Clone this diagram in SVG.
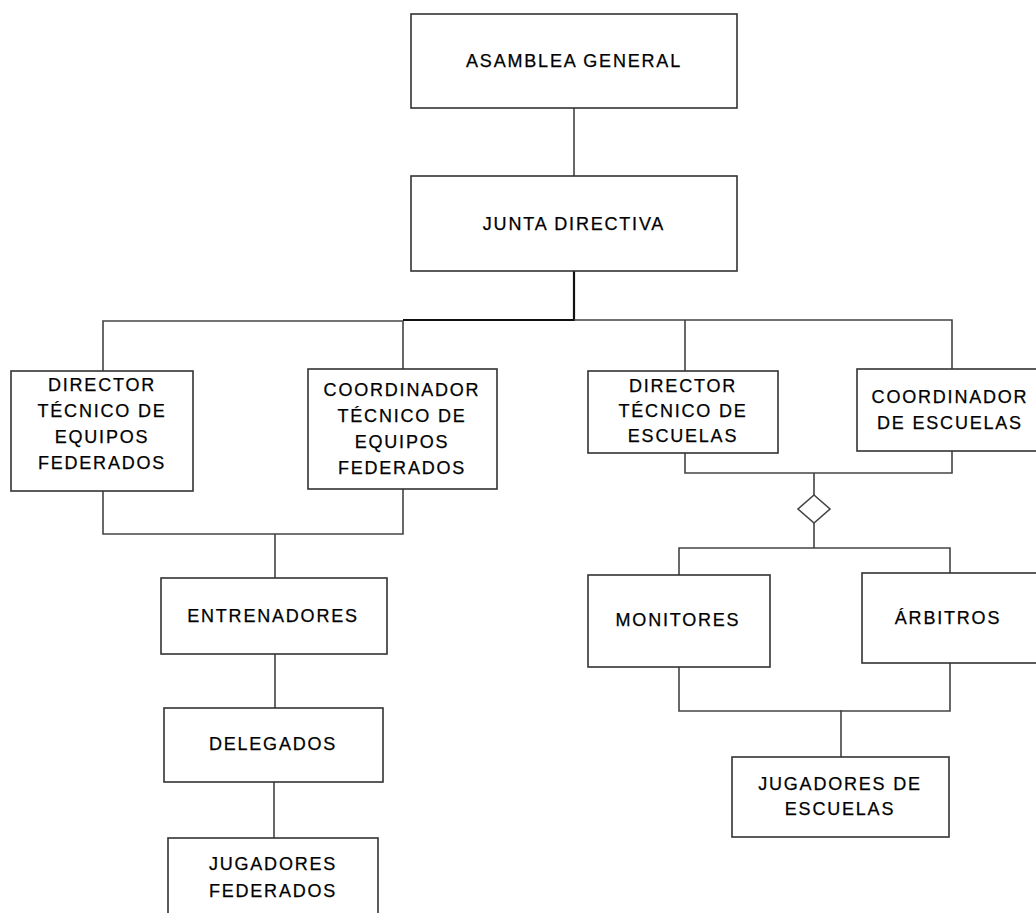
<svg xmlns="http://www.w3.org/2000/svg" width="1036" height="913" viewBox="0 0 1036 913">
<style>
.box{fill:#fff;stroke:#333;stroke-width:1.6}
.t{font-family:"Liberation Sans",Arial,sans-serif;font-size:18px;letter-spacing:1.8px;fill:#000;stroke:#000;stroke-width:0.25;text-anchor:middle}
.c{fill:none;stroke:#444;stroke-width:1.6}
.ck{fill:none;stroke:#111;stroke-width:2.2}
</style>
<rect width="1036" height="913" fill="#fff"/>
<g id="connectors">
<path class="c" d="M574,108 V176"/>
<path class="ck" d="M574,271 V320 H403"/>
<path class="c" d="M103,371 V321 H403 M574,320 H952 V369 M403,321 V369 M685,320 V371"/>
<path class="c" d="M103,491 V534 H403 V489 M275,534 V578"/>
<path class="c" d="M685,453 V473 H952 V451 M814,473 V495 M814,523 V548 M679,575 V548 H950 V573"/>
<path class="c" d="M814,495 L830,509 L814,523 L798,509 Z" fill="#fff"/>
<path class="c" d="M679,667 V711 H950 V663 M841,710 V757"/>
<path class="c" d="M275,654 V708 M274,782 V838"/>
</g>
<g id="asamblea"><rect class="box" x="411" y="14" width="326" height="94"/><text class="t" x="574" y="66.5">ASAMBLEA GENERAL</text></g>
<g id="junta"><rect class="box" x="411" y="176" width="326" height="95"/><text class="t" x="574" y="229.5">JUNTA DIRECTIVA</text></g>
<g id="dir-tec-fed"><rect class="box" x="11" y="371" width="182" height="120"/>
<text class="t" x="102" y="390.5">DIRECTOR</text><text class="t" x="102" y="416.5">TÉCNICO DE</text><text class="t" x="102" y="442.5">EQUIPOS</text><text class="t" x="102" y="468.5">FEDERADOS</text></g>
<g id="coord-tec-fed"><rect class="box" x="308" y="369" width="189" height="120"/>
<text class="t" x="402" y="396">COORDINADOR</text><text class="t" x="402" y="422">TÉCNICO DE</text><text class="t" x="402" y="448">EQUIPOS</text><text class="t" x="402" y="474">FEDERADOS</text></g>
<g id="dir-tec-esc"><rect class="box" x="588" y="371" width="190" height="82"/>
<text class="t" x="683" y="391.5">DIRECTOR</text><text class="t" x="683" y="417">TÉCNICO DE</text><text class="t" x="683" y="442">ESCUELAS</text></g>
<g id="coord-esc"><rect class="box" x="857" y="369" width="190" height="82"/>
<text class="t" x="950" y="403">COORDINADOR</text><text class="t" x="950" y="428.5">DE ESCUELAS</text></g>
<g id="entrenadores"><rect class="box" x="161" y="578" width="226" height="76"/><text class="t" x="273" y="621.5">ENTRENADORES</text></g>
<g id="delegados"><rect class="box" x="164" y="708" width="219" height="74"/><text class="t" x="273" y="749.5">DELEGADOS</text></g>
<g id="jugadores-fed"><rect class="box" x="168" y="838" width="210" height="90"/>
<text class="t" x="273" y="869.5">JUGADORES</text><text class="t" x="273" y="896.5">FEDERADOS</text></g>
<g id="monitores"><rect class="box" x="588" y="575" width="182" height="92"/><text class="t" x="678" y="625.5">MONITORES</text></g>
<g id="arbitros"><rect class="box" x="862" y="573" width="180" height="90"/><text class="t" x="948" y="623.5">ÁRBITROS</text></g>
<g id="jugadores-esc"><rect class="box" x="732" y="757" width="217" height="80"/>
<text class="t" x="840" y="789.5">JUGADORES DE</text><text class="t" x="840" y="814.5">ESCUELAS</text></g>
</svg>
